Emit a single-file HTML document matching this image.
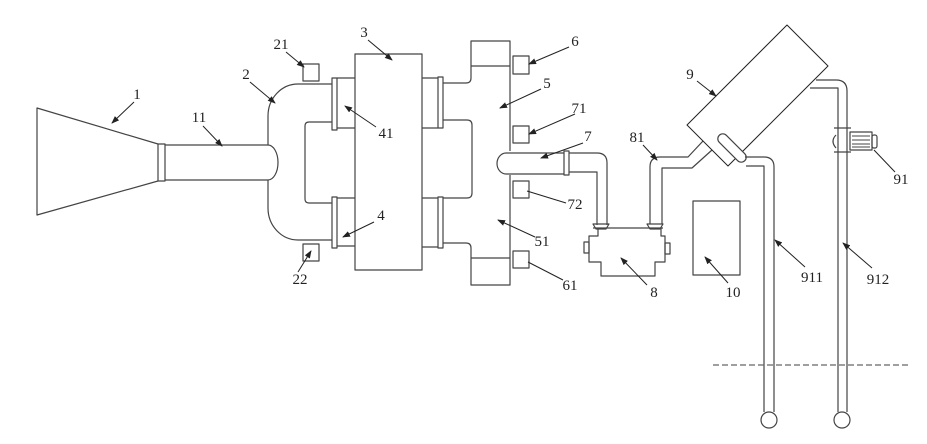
<!DOCTYPE html>
<html><head><meta charset="utf-8">
<style>
html,body{margin:0;padding:0;background:#fff;}
svg{display:block;}
text{font-family:"Liberation Serif",serif;font-size:15px;fill:#222;text-anchor:middle;dominant-baseline:central;}
</style></head>
<body>
<svg width="927" height="444" viewBox="0 0 927 444" xmlns="http://www.w3.org/2000/svg">
<defs>
<marker id="ar" markerWidth="8" markerHeight="6" refX="7" refY="3" orient="auto" markerUnits="userSpaceOnUse">
<path d="M0,0 L8,3 L0,6 Z" fill="#222"/>
</marker>
</defs>
<g fill="none" stroke="#444" stroke-width="1.2" stroke-linejoin="round">
<!-- cone 1 -->
<path d="M158,144 L37,108 V215 L158,181"/>
<rect x="158" y="144" width="7" height="37"/>
<!-- pipe 11 -->
<path d="M165,145 H268 A10,17.5 0 0 1 268,180 H165"/>
<!-- manifold 2 -->
<path d="M332,84 H298 A30,32 0 0 0 268,116 V145 M268,180 V208 A30,32 0 0 0 298,240 H332"/>
<path d="M332,122 H309 Q305,122 305,126 V199 Q305,203 309,203 H332"/>
<!-- sensors 21 22 -->
<rect x="303" y="64" width="16" height="17"/>
<rect x="303" y="244" width="16" height="17"/>
<!-- left flanges -->
<rect x="332" y="78" width="5" height="52"/>
<rect x="332" y="197" width="5" height="51"/>
<path d="M337,78 H355 M337,128 H355 M337,198 H355 M337,246 H355"/>
<!-- block 3 -->
<rect x="355" y="54" width="67" height="216"/>
<!-- right flanges -->
<rect x="438" y="77" width="5" height="51"/>
<rect x="438" y="197" width="5" height="51"/>
<path d="M422,78 H438 M422,128 H438 M422,198 H438 M422,247 H438"/>
<!-- block 5 -->
<path d="M443,83 H466 Q471,83 471,78 V41 H510 V151 M510,175 V285 H471 V248 Q471,243 466,243 H443"/>
<path d="M471,66 H510 M471,258 H510"/>
<path d="M443,120 H467 Q472,120 472,125 V193 Q472,198 467,198 H443"/>
<!-- sensors 6 71 72 61 -->
<rect x="513" y="56" width="16" height="18"/>
<rect x="513" y="126" width="16" height="17"/>
<rect x="513" y="181" width="16" height="17"/>
<rect x="513" y="251" width="16" height="17"/>
<!-- pipe 7 -->
<path d="M564,153 H506 A9,10.5 0 0 0 506,174 H564"/>
<rect x="564" y="151" width="5" height="24"/>
<path d="M569,153 H597 Q607,153 607,163 V225 M569,172 H597 V225"/>
<!-- pump 8 -->
<path d="M593,228 H663"/>
<path d="M598,228 V236 H589 V262 H601 V276 H655 V262 H665 V236 H661 V228"/>
<rect x="584" y="242" width="5" height="11"/>
<rect x="665" y="243" width="5" height="11"/>
<path d="M593,224 H609 L606,229 H596 Z M647,224 H663 L660,229 H650 Z"/>
<!-- pipe 81 -->
<path d="M650,224 V167 Q650,157 660,157 H688 L703,141 M662,224 V168 H692 L712,150"/>
<!-- box 10 -->
<rect x="693" y="201" width="47" height="74"/>
<!-- tank 9 -->
<path d="M787,25 L828,66 L728,166 L687,125 Z" stroke="#222" stroke-width="1"/>
<g transform="translate(732,148) rotate(45)"><rect x="-18" y="-5" width="36" height="10" rx="5" fill="#fff"/></g>
<!-- pipe 911 -->
<path d="M745,157 H764 Q774,157 774,167 V412 M746,166 H764 V412"/>
<circle cx="769" cy="420" r="8"/>
<!-- pipe 912 -->
<path d="M816,80 H836 Q847,80 847,91 V412 M810,88 H838 V412"/>
<circle cx="842" cy="420" r="8"/>
<!-- pump 91 -->
<path d="M834,128 H851 M834,152 H851"/>
<path d="M836,135 Q830,141 836,148"/>
<rect x="850" y="132" width="22" height="18"/>
<path d="M852,136 H870 M852,140 H870 M852,144 H870 M852,147 H870" stroke-width="1"/>
<rect x="872" y="135" width="5" height="13" rx="2"/>
<!-- dashed ground line -->
<path d="M713,365 H908" stroke="#666" stroke-dasharray="6,3"/>
</g>
<!-- leaders -->
<g stroke="#222" stroke-width="1" fill="none">
<line x1="134" y1="102" x2="112" y2="123" marker-end="url(#ar)"/>
<line x1="203" y1="126" x2="222" y2="146" marker-end="url(#ar)"/>
<line x1="250" y1="82" x2="275" y2="103" marker-end="url(#ar)"/>
<line x1="286" y1="52" x2="304" y2="67" marker-end="url(#ar)"/>
<line x1="298" y1="272" x2="311" y2="251" marker-end="url(#ar)"/>
<line x1="368" y1="40" x2="392" y2="60" marker-end="url(#ar)"/>
<line x1="376" y1="127" x2="345" y2="106" marker-end="url(#ar)"/>
<line x1="374" y1="222" x2="343" y2="237" marker-end="url(#ar)"/>
<line x1="569" y1="47" x2="529" y2="64" marker-end="url(#ar)"/>
<line x1="541" y1="89" x2="500" y2="108" marker-end="url(#ar)"/>
<line x1="575" y1="114" x2="529" y2="134" marker-end="url(#ar)"/>
<line x1="583" y1="143" x2="541" y2="158" marker-end="url(#ar)"/>
<line x1="566" y1="203" x2="527" y2="191"/>
<line x1="535" y1="237" x2="498" y2="220" marker-end="url(#ar)"/>
<line x1="563" y1="280" x2="528" y2="262"/>
<line x1="643" y1="145" x2="657" y2="160" marker-end="url(#ar)"/>
<line x1="647" y1="285" x2="621" y2="258" marker-end="url(#ar)"/>
<line x1="728" y1="283" x2="705" y2="257" marker-end="url(#ar)"/>
<line x1="697" y1="81" x2="716" y2="96" marker-end="url(#ar)"/>
<line x1="895" y1="172" x2="874" y2="150"/>
<line x1="805" y1="267" x2="775" y2="240" marker-end="url(#ar)"/>
<line x1="872" y1="268" x2="843" y2="243" marker-end="url(#ar)"/>
</g>
<!-- labels -->
<text x="137" y="95">1</text>
<text x="199" y="118">11</text>
<text x="246" y="75">2</text>
<text x="281" y="45">21</text>
<text x="300" y="280">22</text>
<text x="364" y="33">3</text>
<text x="386" y="134">41</text>
<text x="381" y="216">4</text>
<text x="575" y="42">6</text>
<text x="547" y="84">5</text>
<text x="579" y="109">71</text>
<text x="588" y="137">7</text>
<text x="575" y="205">72</text>
<text x="542" y="242">51</text>
<text x="570" y="286">61</text>
<text x="637" y="138">81</text>
<text x="654" y="293">8</text>
<text x="733" y="293">10</text>
<text x="690" y="75">9</text>
<text x="901" y="180">91</text>
<text x="812" y="278">911</text>
<text x="878" y="280">912</text>
</svg>
</body></html>
